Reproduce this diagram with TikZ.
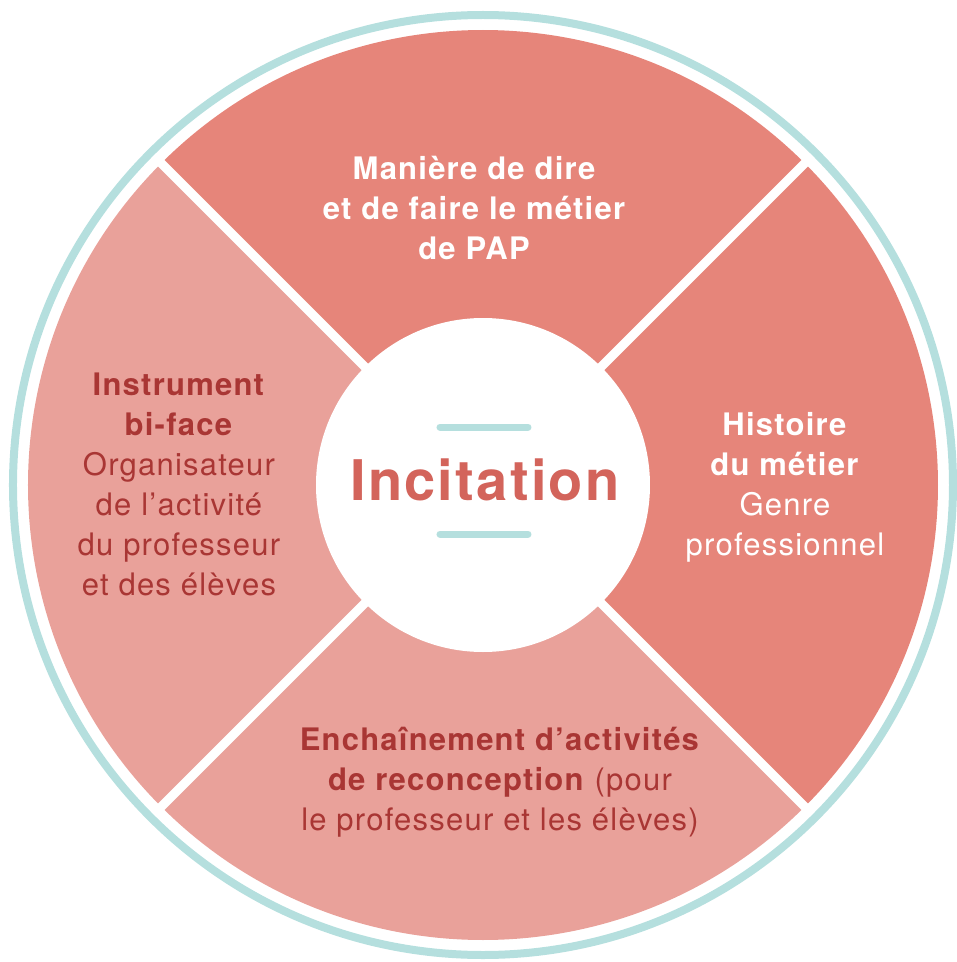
\documentclass[tikz,border=0pt]{standalone}
\usepackage{fontspec}
\setmainfont[LetterSpace=4]{TeX Gyre Heros}
\definecolor{rosefonce}{HTML}{E6857A}
\definecolor{roseclair}{HTML}{E9A19A}
\definecolor{rougetexte}{HTML}{A93634}
\definecolor{rougetitre}{HTML}{D3645B}
\definecolor{turquoise}{HTML}{B5DFDE}
\tikzset{
  bloc/.style={align=center, font=\fontsize{31}{40}\selectfont},
  surfonce/.style={bloc, text=white},
  surclair/.style={bloc, text=rougetexte},
  barre/.style={turquoise, line width=7pt, line cap=round}
}
\begin{document}
\begin{tikzpicture}[x=1pt,y=1pt]
  \def\rayon{455} % rayon du disque rose
  \def\rcentre{167} % rayon du disque blanc
  \useasboundingbox (-483,-477) rectangle (474,485);
  % les quatre secteurs
  \fill[rosefonce] (0,0) -- (45:\rayon) arc(45:135:\rayon) -- cycle;
  \fill[rosefonce] (0,0) -- (-45:\rayon) arc(-45:45:\rayon) -- cycle;
  \fill[roseclair] (0,0) -- (135:\rayon) arc(135:225:\rayon) -- cycle;
  \fill[roseclair] (0,0) -- (225:\rayon) arc(225:315:\rayon) -- cycle;
  \foreach \a in {45,135,225,315}
    \draw[white, line width=9pt] (0,0) -- (\a:\rayon+8);
  \fill[white] (0,0) circle (\rcentre);
  \draw[turquoise, line width=8pt] (0,0) circle (470);
  % centre
  \draw[barre] (-43,58) -- (45,58);
  \draw[barre] (-43,-49) -- (45,-49);
  \node[text=rougetitre, font=\fontsize{56}{60}\selectfont\bfseries] (incitation) at (2,5) {Incitation};
  % textes
  \node[surfonce, font={\fontsize{31}{40}\selectfont\bfseries}] (maniere) at (-9,277)
    {Manière de dire\\et de faire le métier\\de PAP};
  \node[surfonce] (histoire) at (302,-2)
    {\textbf{Histoire}\\\textbf{du métier}\\Genre\\professionnel};
  \node[surclair] (instrument) at (-304,1)
    {\textbf{Instrument}\\\textbf{bi-face}\\Organisateur\\de l’activité\\du professeur\\et des élèves};
  \node[surclair] (enchainement) at (17,-297)
    {\textbf{Enchaînement d’activités}\\\textbf{de reconception} (pour\\le professeur et les élèves)};
\end{tikzpicture}
\end{document}
